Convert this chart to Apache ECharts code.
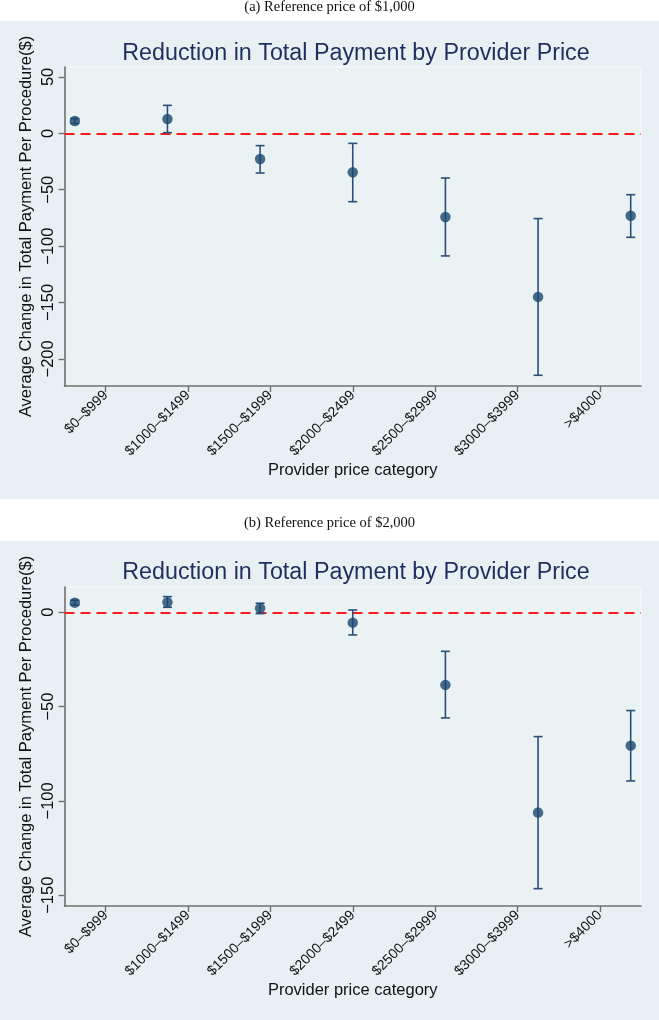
<!DOCTYPE html>
<html>
<head>
<meta charset="utf-8">
<script src="https://cdn.jsdelivr.net/npm/echarts@6/dist/echarts.min.js"></script>
<style>html,body{margin:0;padding:0;background:#fff;}#c{width:659px;height:1020px;}</style>
</head>
<body>
<div id="c"></div>
<script>
// ---- data ----
const categories = ['$0\u2013$999', '$1000\u2013$1499', '$1500\u2013$1999', '$2000\u2013$2499', '$2500\u2013$2999', '$3000\u2013$3999', '>$4000'];
const tickPos = [1, 2, 3, 4, 5, 6, 7];
const pointX = [0.625, 1.75, 2.875, 4.0, 5.125, 6.25, 7.375];

const meanA = [10.9, 12.7, -22.7, -34.6, -74.2, -145.0, -73.0];
const lowA  = [8.7, 0.6, -35.2, -60.6, -108.7, -214.5, -92.2];
const highA = [13.1, 24.8, -10.9, -8.9, -39.6, -75.6, -54.4];

const meanB = [5.1, 5.3, 2.1, -5.5, -38.5, -106.2, -70.7];
const lowB  = [3.8, 2.65, -0.7, -12.0, -56.0, -146.5, -89.4];
const highB = [6.4, 8.3, 4.8, 1.2, -20.7, -65.9, -52.1];

const yTicksA = [-200, -150, -100, -50, 0, 50];
const yTicksB = [-150, -100, -50, 0];

const titleText = 'Reduction in Total Payment by Provider Price';
const captionA = '(a) Reference price of $1,000';
const captionB = '(b) Reference price of $2,000';
const yName = 'Average Change in Total Payment Per Procedure($)';
const xName = 'Provider price category';

// ---- styling ----
const FONT = '"Liberation Sans", Arial, Helvetica, sans-serif';
const NAVY = '#1a476f';
const BAR = '#2a5078';
const AXIS = '#6f6f6f';
const OUTER = '#e9f0f3';
const PLOT = '#ebf2f4';

const chart = echarts.init(document.getElementById('c'), null, {renderer: 'canvas'});

function fmtMinus(v) { return String(v).replace('-', '\u2212'); }

function makeY(idx, min, max, ticks) {
  return {
    type: 'value', gridIndex: idx, min: min, max: max,
    name: yName, nameLocation: 'middle', nameGap: 30, nameRotate: 90, nameMoveOverlap: false,
    nameTextStyle: {fontFamily: FONT, fontSize: 16.5, color: '#111'},
    axisLine: {show: true, lineStyle: {color: AXIS, width: 1.6}},
    axisTick: {show: true, length: 6, customValues: ticks, lineStyle: {color: AXIS, width: 1.4}},
    axisLabel: {customValues: ticks, rotate: 90, margin: 8, fontFamily: FONT, fontSize: 16.5, color: '#111',
      formatter: fmtMinus},
    splitLine: {show: false}
  };
}
function makeX(idx) {
  return {
    type: 'value', gridIndex: idx, min: 0.5, max: 7.5,
    name: xName, nameLocation: 'middle', nameGap: 76, nameMoveOverlap: false,
    nameTextStyle: {fontFamily: FONT, fontSize: 16.5, color: '#111'},
    axisLine: {show: true, onZero: false, lineStyle: {color: AXIS, width: 1.6}},
    axisTick: {show: true, length: 6, customValues: tickPos, lineStyle: {color: AXIS, width: 1.4}},
    axisLabel: {customValues: tickPos, rotate: 45, margin: 7, fontFamily: FONT, fontSize: 14, color: '#111',
      formatter: v => categories[Math.round(v) - 1]},
    splitLine: {show: false}
  };
}

function errSeries(idx, low, high) {
  return {
    type: 'custom', xAxisIndex: idx, yAxisIndex: idx,
    data: pointX.map((x, i) => [x, low[i], high[i]]),
    encode: {x: 0, y: [1, 2]},
    z: 3,
    renderItem: function (params, api) {
      const x = api.value(0);
      const lo = api.coord([x, api.value(1)]);
      const hi = api.coord([x, api.value(2)]);
      const hw = 4.5;
      const st = {stroke: BAR, lineWidth: 1.6, fill: null};
      return {type: 'group', children: [
        {type: 'line', shape: {x1: lo[0], y1: lo[1], x2: hi[0], y2: hi[1]}, style: st},
        {type: 'line', shape: {x1: lo[0] - hw, y1: lo[1], x2: lo[0] + hw, y2: lo[1]}, style: st},
        {type: 'line', shape: {x1: hi[0] - hw, y1: hi[1], x2: hi[0] + hw, y2: hi[1]}, style: st}
      ]};
    }
  };
}
function pointSeries(idx, mean) {
  return {
    type: 'scatter', xAxisIndex: idx, yAxisIndex: idx,
    data: pointX.map((x, i) => [x, mean[i]]),
    symbol: 'circle', symbolSize: 10.5, z: 4,
    itemStyle: {color: NAVY},
    markLine: {
      silent: true, symbol: ['none', 'none'], z: 2,
      label: {show: false},
      lineStyle: {color: '#ff1a1a', type: [10, 6], width: 2},
      data: [{yAxis: 0}]
    }
  };
}

const option = {
  backgroundColor: '#ffffff',
  animation: false,
  graphic: [
    {type: 'rect', shape: {x: 0, y: 21, width: 659, height: 478}, style: {fill: OUTER}, z: -10, silent: true},
    {type: 'rect', shape: {x: 0, y: 541, width: 659, height: 479}, style: {fill: OUTER}, z: -10, silent: true},
    {type: 'text', x: 329.5, y: 7, style: {text: captionA, fontFamily: '"Liberation Serif", "DejaVu Serif", serif', fontSize: 14.5, fill: '#111', align: 'center', verticalAlign: 'middle'}},
    {type: 'text', x: 329.5, y: 523, style: {text: captionB, fontFamily: '"Liberation Serif", "DejaVu Serif", serif', fontSize: 14.5, fill: '#111', align: 'center', verticalAlign: 'middle'}}
  ],
  title: [
    {text: titleText, left: 351, top: 37, textAlign: 'center',
      textStyle: {fontFamily: FONT, fontSize: 23.3, fontWeight: 'normal', color: '#1e2e5e'}},
    {text: titleText, left: 351, top: 556, textAlign: 'center',
      textStyle: {fontFamily: FONT, fontSize: 23.3, fontWeight: 'normal', color: '#1e2e5e'}}
  ],
  grid: [
    {left: 64.5, top: 67, width: 576.5, height: 319, show: true, backgroundColor: PLOT, borderColor: '#f7fafb', borderWidth: 1},
    {left: 64.5, top: 587, width: 576.5, height: 319, show: true, backgroundColor: PLOT, borderColor: '#f7fafb', borderWidth: 1}
  ],
  xAxis: [makeX(0), makeX(1)],
  yAxis: [makeY(0, -224, 58.8, yTicksA), makeY(1, -155.7, 13.4, yTicksB)],
  series: [
    errSeries(0, lowA, highA), pointSeries(0, meanA),
    errSeries(1, lowB, highB), pointSeries(1, meanB)
  ]
};
chart.setOption(option);
</script>
</body>
</html>
